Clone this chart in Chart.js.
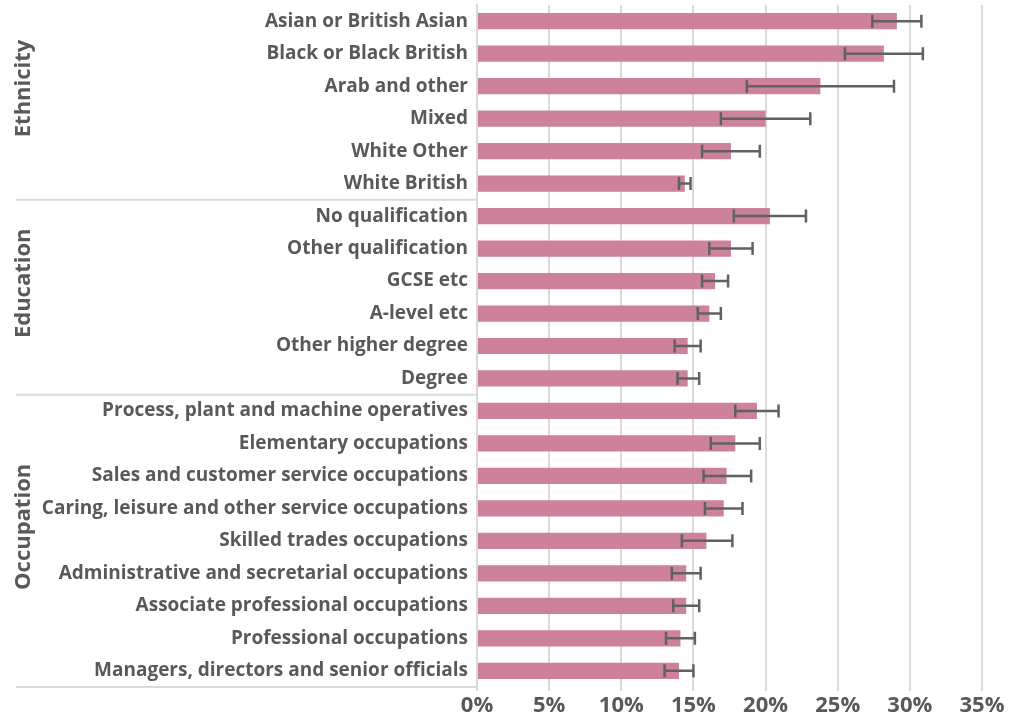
<!DOCTYPE html>
<html lang="en">
<head>
    <meta charset="UTF-8">
    <title>Rates by group</title>
    <script src="https://cdn.jsdelivr.net/npm/chart.js"></script>
    <style>
        body {
            margin: 0;
            padding: 0;
            background: #ffffff;
        }
        .wrap {
            width: 1014px;
            height: 720px;
        }
    </style>
</head>
<body>
    <div class="wrap">
        <canvas id="barChart"></canvas>
    </div>

    <script>
        // categories, top to bottom
        const categories = [
            'Asian or British Asian', 'Black or Black British', 'Arab and other', 'Mixed',
            'White Other', 'White British',
            'No qualification', 'Other qualification', 'GCSE etc', 'A-level etc',
            'Other higher degree', 'Degree',
            'Process, plant and machine operatives', 'Elementary occupations',
            'Sales and customer service occupations', 'Caring, leisure and other service occupations',
            'Skilled trades occupations', 'Administrative and secretarial occupations',
            'Associate professional occupations', 'Professional occupations',
            'Managers, directors and senior officials'
        ];

        // group names and how many categories each one spans
        const groups = ['Ethnicity', 'Education', 'Occupation'];
        const groupSizes = [6, 6, 9];

        // estimated % and confidence interval ends
        const values = [29.1, 28.2, 23.8, 20.0, 17.6, 14.4,
                        20.3, 17.6, 16.5, 16.1, 14.6, 14.6,
                        19.4, 17.9, 17.3, 17.1, 15.9, 14.5, 14.5, 14.1, 14.0];
        const errLow = [27.4, 25.5, 18.7, 16.9, 15.6, 14.0,
                        17.8, 16.1, 15.6, 15.3, 13.7, 13.9,
                        17.9, 16.2, 15.7, 15.8, 14.2, 13.5, 13.6, 13.1, 13.0];
        const errHigh = [30.8, 30.9, 28.9, 23.1, 19.6, 14.8,
                         22.8, 19.1, 17.4, 16.9, 15.5, 15.4,
                         20.9, 19.6, 19.0, 18.4, 17.7, 15.5, 15.4, 15.1, 15.0];

        const xTicks = [0, 5, 10, 15, 20, 25, 30, 35];

        const textColor = '#595959';
        const lineColor = '#D9D9D9';
        const fontFamily = '"Open Sans", "Noto Sans", sans-serif';

        // error bars, drawn with the chart's own scales
        const errorBars = {
            id: 'errorBars',
            afterDatasetsDraw(chart) {
                const ctx = chart.ctx;
                const xs = chart.scales.x;
                const ys = chart.scales.y;
                ctx.save();
                ctx.strokeStyle = '#616161';
                ctx.lineWidth = 2.5;
                for (let i = 0; i < categories.length; i++) {
                    const y = ys.getPixelForValue(i);
                    const x1 = xs.getPixelForValue(errLow[i]);
                    const x2 = xs.getPixelForValue(errHigh[i]);
                    ctx.beginPath();
                    ctx.moveTo(x1, y);
                    ctx.lineTo(x2, y);
                    ctx.moveTo(x1, y - 6.5);
                    ctx.lineTo(x1, y + 6.5);
                    ctx.moveTo(x2, y - 6.5);
                    ctx.lineTo(x2, y + 6.5);
                    ctx.stroke();
                }
                ctx.restore();
            }
        };

        // group separators and rotated group names on the left
        const groupLabels = {
            id: 'groupLabels',
            afterDraw(chart) {
                const ctx = chart.ctx;
                const ys = chart.scales.y;
                const area = chart.chartArea;
                const step = ys.getPixelForValue(1) - ys.getPixelForValue(0);
                ctx.save();
                ctx.strokeStyle = lineColor;
                ctx.lineWidth = 2;
                let start = 0;
                groups.forEach((name, g) => {
                    const end = start + groupSizes[g] - 1;
                    const top = ys.getPixelForValue(start) - step / 2;
                    const bottom = ys.getPixelForValue(end) + step / 2;
                    ctx.beginPath();
                    ctx.moveTo(16, bottom);
                    ctx.lineTo(area.left, bottom);
                    ctx.stroke();

                    ctx.save();
                    ctx.translate(24, (top + bottom) / 2 - 14);
                    ctx.rotate(-Math.PI / 2);
                    ctx.fillStyle = textColor;
                    ctx.font = 'bold 22px ' + fontFamily;
                    ctx.textAlign = 'center';
                    ctx.textBaseline = 'middle';
                    ctx.fillText(name, 0, 0);
                    ctx.restore();
                    start = end + 1;
                });
                ctx.restore();
            }
        };

        const ctx = document.getElementById('barChart').getContext('2d');
        new Chart(ctx, {
            type: 'bar',
            data: {
                labels: categories,
                datasets: [{
                    data: values,
                    backgroundColor: '#CD819A',
                    barPercentage: 0.5,
                    categoryPercentage: 1.0
                }]
            },
            options: {
                indexAxis: 'y',
                responsive: true,
                maintainAspectRatio: false,
                animation: false,
                layout: { padding: { top: 5, right: 32, left: 0, bottom: 0 } },
                plugins: {
                    legend: { display: false },
                    tooltip: { enabled: false }
                },
                scales: {
                    x: {
                        min: 0,
                        max: 35,
                        afterBuildTicks: (scale) => {
                            scale.ticks = xTicks.map(v => ({ value: v }));
                        },
                        afterFit: (scale) => { scale.height = 33; },
                        grid: {
                            color: lineColor,
                            lineWidth: 2,
                            tickLength: 4
                        },
                        border: { display: false },
                        ticks: {
                            color: textColor,
                            font: { family: fontFamily, size: 22, weight: 'bold' },
                            padding: 2,
                            callback: (v) => v + '%'
                        }
                    },
                    y: {
                        afterFit: (scale) => {
                            scale.width = 477;
                            scale.paddingTop = 0;
                            scale.paddingBottom = 0;
                        },
                        grid: { display: false },
                        border: { display: true, color: lineColor, width: 2 },
                        ticks: {
                            autoSkip: false,
                            color: textColor,
                            font: { family: fontFamily, size: 19, weight: 'bold' },
                            padding: 1
                        }
                    }
                }
            },
            plugins: [errorBars, groupLabels]
        });
    </script>
</body>
</html>
